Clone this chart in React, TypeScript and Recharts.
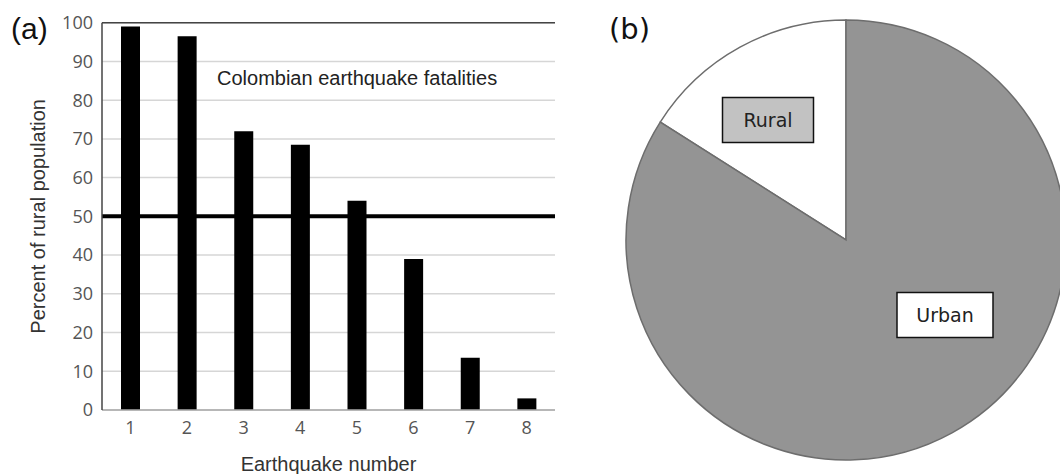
import React from 'react';
import { BarChart, Bar, XAxis, YAxis, CartesianGrid, ReferenceLine, PieChart, Pie, Cell } from 'recharts';

// Panel (a): share of fatalities that were rural, per earthquake
const earthquakes = ['1', '2', '3', '4', '5', '6', '7', '8'];
const ruralPercent = [99, 96.5, 72, 68.5, 54, 39, 13.5, 3];
const yTicks = [0, 10, 20, 30, 40, 50, 60, 70, 80, 90, 100];
const halfLine = 50;

// Panel (b): rural vs urban population
const pieCategories = ['Rural', 'Urban'];
const pieShares = [16, 84];

const barData = earthquakes.map((n, i) => ({ n, pct: ruralPercent[i] }));
const pieData = pieCategories.map((name, i) => ({ name, value: pieShares[i] }));

const pieFills = ['#ffffff', '#949494'];
const boxFills = ['#c2c2c2', '#ffffff'];
// label box centre, relative to the pie centre
const boxOffsets = [
  { dx: -78, dy: -120, w: 91 },
  { dx: 99, dy: 75, w: 96 },
];

const tickFont = { fontFamily: 'Open Sans', fontSize: 18, fill: '#555' };
const titleFont = { fontFamily: 'Liberation Sans', fontSize: 20, fill: '#333' };

function PieBox(props: any) {
  const { index, name } = props;
  const cx = props.cx ?? 286;
  const cy = props.cy ?? 240;
  const o = boxOffsets[index];
  const x = cx + o.dx;
  const y = cy + o.dy;
  return (
    <g>
      <rect x={x - o.w / 2} y={y - 22.5} width={o.w} height={45} fill={boxFills[index]} stroke="#111" strokeWidth={1.5} />
      <text x={x} y={y} textAnchor="middle" dominantBaseline="central" fontFamily="DejaVu Sans" fontSize={19} fill="#222">
        {name}
      </text>
    </g>
  );
}

export default function App() {
  return (
    <div style={{ position: 'absolute', left: 0, top: 0, width: 1060, height: 474, background: '#fff', fontFamily: 'Liberation Sans' }}>
      <div style={{ position: 'absolute', left: 0, top: 0 }}>
        <BarChart width={560} height={474} data={barData} margin={{ top: 22.7, right: 5, bottom: 0, left: 0 }} barSize={19}>
          <CartesianGrid yAxisId="left" vertical={false} stroke="#d6d6d6" strokeWidth={1.5} />
          <XAxis
            dataKey="n"
            height={64}
            tickSize={0}
            tickMargin={11}
            tick={tickFont}
            axisLine={{ stroke: '#aaa', strokeWidth: 1.5 }}
            label={{ value: 'Earthquake number', position: 'insideBottom', offset: 3, style: titleFont }}
          />
          <YAxis
            yAxisId="left"
            width={102}
            domain={[0, 100]}
            ticks={yTicks}
            interval={0}
            tickSize={0}
            tickMargin={9}
            tick={tickFont}
            axisLine={{ stroke: '#444', strokeWidth: 1.5 }}
            label={{ value: 'Percent of rural population', angle: -90, position: 'insideLeft', offset: 38, style: { ...titleFont, textAnchor: 'middle' } }}
          />
          <YAxis yAxisId="right" orientation="right" width={0} tick={false} tickLine={false} axisLine={{ stroke: '#444', strokeWidth: 1.5 }} />
          <ReferenceLine yAxisId="left" y={100} stroke="#444" strokeWidth={1.5} />
          <Bar yAxisId="left" dataKey="pct" fill="#000" isAnimationActive={false} />
          <ReferenceLine yAxisId="left" y={halfLine} stroke="#000" strokeWidth={4} />
        </BarChart>
      </div>
      <div style={{ position: 'absolute', left: 217, top: 68, fontSize: 20, lineHeight: '20px', color: '#222', whiteSpace: 'nowrap' }}>
        Colombian earthquake fatalities
      </div>
      <div style={{ position: 'absolute', left: 11, top: 12, fontSize: 30, color: '#111', lineHeight: '34px' }}>(a)</div>

      <div style={{ position: 'absolute', left: 560, top: 0 }}>
        <PieChart width={500} height={474} margin={{ top: 0, right: 0, bottom: 0, left: 0 }}>
          <Pie
            data={pieData}
            dataKey="value"
            nameKey="name"
            cx={286}
            cy={240}
            outerRadius={220}
            startAngle={90}
            endAngle={450}
            stroke="#6d6d6d"
            strokeWidth={1.5}
            labelLine={false}
            label={PieBox}
            isAnimationActive={false}
          >
            {pieData.map((d, i) => (
              <Cell key={d.name} fill={pieFills[i]} />
            ))}
          </Pie>
        </PieChart>
      </div>
      <div style={{ position: 'absolute', left: 609, top: 12, fontSize: 29, color: '#111', lineHeight: '34px', fontFamily: 'DejaVu Sans' }}>(b)</div>
    </div>
  );
}
